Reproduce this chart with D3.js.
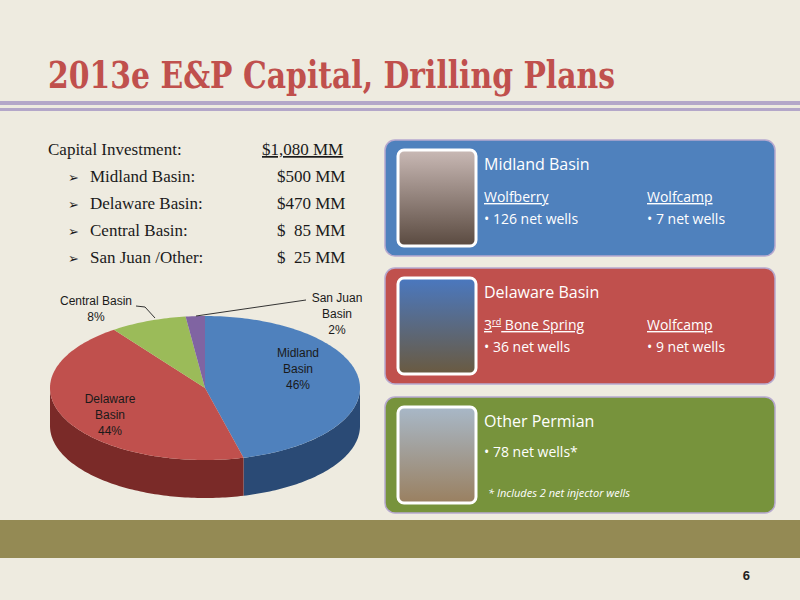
<!DOCTYPE html>
<html><head><meta charset="utf-8">
<script src="https://cdn.jsdelivr.net/npm/d3@7"></script>
<style>body{margin:0;background:#eeebe0}</style>
</head><body>
<svg id="c" width="800" height="600"></svg>
<script>
const basins = ["Midland Basin", "Delaware Basin", "Central Basin", "San Juan Basin"]
const shares = [46, 44, 8, 2]
const capitalLabels = ["Midland Basin:", "Delaware Basin:", "Central Basin:", "San Juan /Other:"]
const capitalValues = ["$500 MM", "$470 MM", "$  85 MM", "$  25 MM"]
const colors = ["#4f81bd", "#c0504d", "#9bbb59", "#8064a2"]
const sideColors = ["#2a4a75", "#7a2a28", "#5f7a30", "#4f3a70"]

const svg = d3.select("#c")
svg.append("rect").attr("width", 800).attr("height", 600).attr("fill", "#eeebe0")

/* title */
svg.append("text").attr("x", 48).attr("y", 88)
    .attr("font-family", "DejaVu Serif").attr("font-weight", "bold")
    .attr("font-size", 38).attr("fill", "#c0504d")
    .attr("textLength", 567).attr("lengthAdjust", "spacingAndGlyphs")
    .text("2013e E&P Capital, Drilling Plans")
svg.append("rect").attr("x", 0).attr("y", 101).attr("width", 800).attr("height", 4).attr("fill", "#b4a7c9")
svg.append("rect").attr("x", 0).attr("y", 108).attr("width", 800).attr("height", 3).attr("fill", "#b4a7c9")

/* capital list */
const txt = svg.append("g").attr("font-family", "Liberation Serif").attr("font-size", 17).attr("fill", "#1a1a1a")
txt.append("text").attr("x", 48).attr("y", 155).text("Capital Investment:")
txt.append("text").attr("x", 262).attr("y", 155).attr("text-decoration", "underline").text("$1,080 MM")
capitalLabels.forEach((l, i) => {
    const y = 182 + i * 27
    txt.append("text").attr("x", 68).attr("y", y).attr("font-family", "DejaVu Sans").attr("font-size", 13).text("➢")
    txt.append("text").attr("x", 90).attr("y", y).text(l)
    txt.append("text").attr("x", 277).attr("y", y).attr("xml:space", "preserve").style("white-space", "pre").text(capitalValues[i])
})

/* 3D pie */
const cx = 205, cy = 388, rx = 155, ry = 72, depth = 38
const arcs = d3.pie().sort(null).startAngle(0).endAngle(2 * Math.PI)(shares)
const px = a => cx + rx * Math.sin(a)
const py = a => cy - ry * Math.cos(a)
const pie = svg.append("g")
arcs.forEach((d, i) => {
    const a0 = Math.max(d.startAngle, Math.PI / 2), a1 = Math.min(d.endAngle, 3 * Math.PI / 2)
    if (a1 <= a0) return
    const pts = d3.range(a0, a1, 0.02).concat([a1])
    let p = `M${px(a0)},${py(a0)}`
    pts.forEach(a => p += `L${px(a)},${py(a)}`)
    pts.slice().reverse().forEach(a => p += `L${px(a)},${py(a) + depth}`)
    pie.append("path").attr("d", p + "Z").attr("fill", sideColors[i])
})
arcs.forEach((d, i) => {
    const pts = d3.range(d.startAngle, d.endAngle, 0.02).concat([d.endAngle])
    let p = `M${cx},${cy}`
    pts.forEach(a => p += `L${px(a)},${py(a)}`)
    pie.append("path").attr("d", p + "Z").attr("fill", colors[i])
})
const pl = pie.append("g").attr("font-family", "Liberation Sans").attr("font-size", 12).attr("fill", "#1a1a1a").attr("text-anchor", "middle")
const labelPos = [[298, 357], [110, 403], [96, 305], [337, 302]]
const labelLines = [["Midland", "Basin", "46%"], ["Delaware", "Basin", "44%"], ["Central Basin", "8%"], ["San Juan", "Basin", "2%"]]
labelLines.forEach((ls, i) => ls.forEach((s, j) =>
    pl.append("text").attr("x", labelPos[i][0]).attr("y", labelPos[i][1] + j * 16).text(s)))
pie.append("path").attr("d", "M136,306 L145,307 L155,318").attr("fill", "none").attr("stroke", "#333")
pie.append("path").attr("d", "M306,300 L196,316").attr("fill", "none").attr("stroke", "#333")

/* boxes */
const boxes = [
    {y: 140, fill: "#4f81bd", title: "Midland Basin", cols: [["Wolfberry", "• 126 net wells"], ["Wolfcamp", "• 7 net wells"]]},
    {y: 268, fill: "#c0504d", title: "Delaware Basin", cols: [["3rd Bone Spring", "• 36 net wells"], ["Wolfcamp", "• 9 net wells"]]},
    {y: 397, fill: "#77933c", title: "Other Permian", cols: [[null, "• 78 net wells*"]]}
]
const photoFills = [["#c9b9b5", "#5a4a40"], ["#4a78c0", "#6a5a40"], ["#a8b8c8", "#9a8060"]]
boxes.forEach((b, i) => {
    const g = svg.append("g").attr("transform", `translate(385,${b.y})`)
    g.append("rect").attr("width", 390).attr("height", 116).attr("rx", 10)
        .attr("fill", b.fill).attr("stroke", "#b7a9cf").attr("stroke-width", 1.5)
    const grad = svg.append("defs").append("linearGradient").attr("id", "ph" + i).attr("x2", 0).attr("y2", 1)
    grad.append("stop").attr("offset", 0).attr("stop-color", photoFills[i][0])
    grad.append("stop").attr("offset", 1).attr("stop-color", photoFills[i][1])
    g.append("rect").attr("x", 13).attr("y", 10).attr("width", 78).attr("height", 96).attr("rx", 6)
        .attr("fill", `url(#ph${i})`).attr("stroke", "#fff").attr("stroke-width", 3)
    const t = g.append("g").attr("font-family", "Open Sans").attr("fill", "#fff")
    t.append("text").attr("x", 99).attr("y", 30).attr("font-size", 16).text(b.title)
    b.cols.forEach((c, k) => {
        const x = 99 + k * 163
        if (c[0]) {
            const h = t.append("text").attr("x", x).attr("y", 62).attr("font-size", 14).attr("text-decoration", "underline")
            if (c[0].startsWith("3rd")) {
                h.append("tspan").text("3")
                h.append("tspan").attr("font-size", 9).attr("dy", -5).text("rd")
                h.append("tspan").attr("dy", 5).text(" Bone Spring")
            } else h.text(c[0])
        }
        t.append("text").attr("x", x).attr("y", c[0] ? 84 : 60).attr("font-size", 14).text(c[1])
    })
    if (i === 2) t.append("text").attr("x", 103).attr("y", 100).attr("font-size", 11).attr("font-style", "italic")
        .text("* Includes 2 net injector wells")
})

/* footer */
svg.append("rect").attr("x", 0).attr("y", 520).attr("width", 800).attr("height", 38).attr("fill", "#948a54")
svg.append("text").attr("x", 750).attr("y", 580).attr("text-anchor", "end").attr("font-family", "Liberation Sans")
    .attr("font-weight", "bold").attr("font-size", 13).attr("fill", "#222").text("6")
</script>
</body></html>
